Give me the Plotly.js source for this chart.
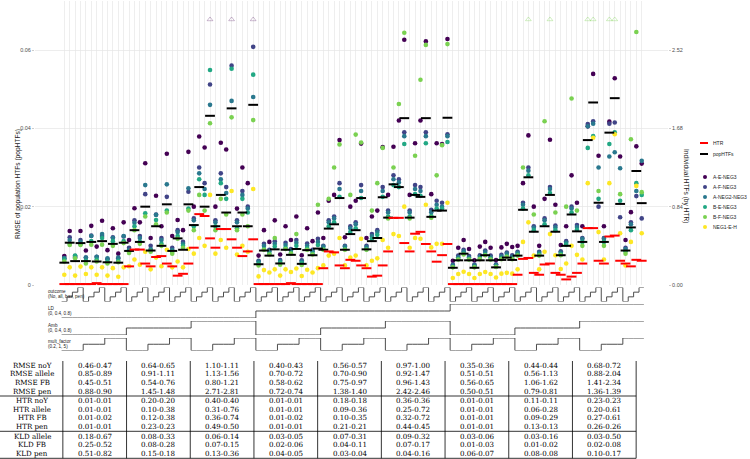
<!DOCTYPE html>
<html><head><meta charset="utf-8">
<script src="https://cdn.plot.ly/plotly-3.0.1.min.js"></script>
<style>html,body{margin:0;padding:0;background:#fff}#chart{width:750px;height:459px}</style>
</head><body><div id="chart"></div>
<script>
// ---------- factors (slot order: LD > Amb > mult_factor > outcome) ----------
const outcomeLevels = ['No','all','bas','pen'];
const multLevels = [0.2, 1, 5];
const ambLevels = [0, 0.4, 0.8];
const ldLevels = [0, 0.4, 0.8];
const slots = Array.from({length:108}, (_, i) => i + 1);

// ---------- RMSE of population HTFs (left axis), 12 values per LD x Amb block ----------
const A_E_NEG3 = [
 0.0074,0.0138,0.0074,0.0138, 0.0088,0.0151,0.0098,0.0164, 0.0089,0.0145,0.0080,0.0160,
 0.0115,0.0196,0.0160,0.0311, 0.0120,0.0228,0.0150,0.0335, 0.0125,0.0166,0.0140,0.0340,
 0.0200,0.0379,0.0351,null,   0.0200,0.0363,0.0346,null,   0.0195,0.0300,0.0260,null,
 0.0075,0.0140,0.0110,0.0165, 0.0078,0.0150,0.0115,0.0175, 0.0076,0.0145,0.0112,0.0185,
 0.0120,0.0215,0.0230,0.0370, 0.0122,0.0200,0.0215,0.0361, 0.0120,0.0175,0.0190,0.0352,
 0.0230,0.0353,0.0420,0.0626, 0.0230,0.0362,0.0420,0.0622, 0.0232,0.0362,0.0360,0.0628,
 0.0062,0.0095,0.0115,0.0092, 0.0063,0.0098,0.0110,0.0095, 0.0064,0.0096,0.0105,0.0097,
 0.0100,0.0260,0.0382,0.0200, 0.0100,0.0220,0.0371,0.0205, 0.0102,0.0150,0.0280,0.0210,
 0.0150,0.0405,0.0539,0.0330, 0.0150,0.0417,0.0528,0.0328, 0.0115,0.0186,0.0354,0.0310];
const A_F_NEG3 = [
 0.0068,0.0122,0.0070,0.0115, 0.0070,0.0126,0.0072,0.0125, 0.0066,0.0122,0.0068,0.0124,
 0.0095,0.0165,0.0125,0.0232, 0.0100,0.0180,0.0120,0.0225, 0.0095,0.0140,0.0110,0.0238,
 0.0170,0.0300,0.0260,0.0512, 0.0165,0.0285,0.0250,0.0560, 0.0165,0.0240,0.0200,0.0608,
 0.0062,0.0105,0.0090,0.0112, 0.0064,0.0108,0.0092,0.0115, 0.0063,0.0106,0.0090,0.0118,
 0.0100,0.0165,0.0175,0.0260, 0.0100,0.0150,0.0160,0.0255, 0.0100,0.0130,0.0140,0.0250,
 0.0190,0.0280,0.0270,0.0390, 0.0190,0.0255,0.0250,0.0390, 0.0192,0.0215,0.0210,0.0385,
 0.0052,0.0075,0.0090,0.0074, 0.0052,0.0076,0.0088,0.0075, 0.0053,0.0077,0.0083,0.0076,
 0.0085,0.0210,0.0300,0.0150, 0.0085,0.0170,0.0250,0.0152, 0.0086,0.0112,0.0200,0.0153,
 0.0120,0.0411,0.0418,0.0200, 0.0120,0.0412,0.0415,0.0173, 0.0095,0.0160,0.0227,0.0170];
const A_NEG2_NEG3 = [
 0.0069,0.0115,0.0072,0.0110, 0.0070,0.0125,0.0072,0.0130, 0.0068,0.0120,0.0070,0.0125,
 0.0090,0.0159,0.0120,0.0255, 0.0092,0.0179,0.0115,0.0257, 0.0090,0.0135,0.0105,0.0247,
 0.0165,0.0285,0.0245,0.0460, 0.0160,0.0270,0.0235,0.0470, 0.0160,0.0230,0.0195,0.0480,
 0.0060,0.0100,0.0086,0.0105, 0.0061,0.0102,0.0088,0.0108, 0.0060,0.0100,0.0086,0.0110,
 0.0098,0.0160,0.0170,0.0245, 0.0098,0.0145,0.0155,0.0240, 0.0097,0.0125,0.0135,0.0240,
 0.0185,0.0270,0.0262,0.0380, 0.0185,0.0245,0.0240,0.0380, 0.0186,0.0205,0.0200,0.0380,
 0.0050,0.0071,0.0086,0.0070, 0.0050,0.0072,0.0084,0.0071, 0.0051,0.0073,0.0080,0.0072,
 0.0082,0.0205,0.0292,0.0146, 0.0082,0.0165,0.0245,0.0147, 0.0083,0.0108,0.0195,0.0148,
 0.0118,0.0405,0.0412,0.0300, 0.0118,0.0328,0.0339,0.0298, 0.0092,0.0155,0.0240,0.0317];
const B_E_NEG3 = [
 0.0065,0.0105,0.0075,0.0104, 0.0062,0.0112,0.0065,0.0120, 0.0060,0.0112,0.0062,0.0112,
 0.0085,0.0150,0.0110,0.0183, 0.0088,0.0166,0.0105,0.0190, 0.0085,0.0125,0.0100,0.0195,
 0.0150,0.0270,0.0230,0.0549, 0.0150,0.0260,0.0220,0.0552, 0.0145,0.0220,0.0185,0.0537,
 0.0055,0.0092,0.0080,0.0098, 0.0057,0.0095,0.0082,0.0100, 0.0056,0.0094,0.0080,0.0102,
 0.0092,0.0150,0.0160,0.0225, 0.0092,0.0135,0.0145,0.0222, 0.0091,0.0118,0.0128,0.0225,
 0.0175,0.0255,0.0250,0.0360, 0.0175,0.0232,0.0228,0.0362, 0.0176,0.0195,0.0195,0.0365,
 0.0046,0.0066,0.0080,0.0066, 0.0046,0.0067,0.0078,0.0066, 0.0047,0.0068,0.0074,0.0067,
 0.0078,0.0195,0.0280,0.0140, 0.0078,0.0155,0.0235,0.0140, 0.0079,0.0103,0.0185,0.0141,
 0.0110,0.0350,0.0380,0.0220, 0.0110,0.0360,0.0390,0.0215, 0.0086,0.0140,0.0260,0.0230];
const B_F_NEG3 = [
 0.0060,0.0102,0.0068,0.0102, 0.0055,0.0103,0.0060,0.0103, 0.0055,0.0100,0.0058,0.0107,
 0.0082,0.0140,0.0105,0.0175, 0.0085,0.0155,0.0100,0.0185, 0.0080,0.0118,0.0095,0.0190,
 0.0140,0.0230,0.0190,0.0413, 0.0140,0.0220,0.0180,0.0428, 0.0140,0.0180,0.0150,0.0421,
 0.0050,0.0090,0.0078,0.0120, 0.0052,0.0092,0.0080,0.0130, 0.0051,0.0090,0.0078,0.0205,
 0.0090,0.0220,0.0300,0.0359, 0.0090,0.0230,0.0384,0.0364, 0.0090,0.0190,0.0260,0.0350,
 0.0170,0.0300,0.0462,0.0644, 0.0170,0.0330,0.0524,0.0613, 0.0172,0.0280,0.0357,0.0615,
 0.0045,0.0065,0.0078,0.0065, 0.0045,0.0066,0.0076,0.0065, 0.0046,0.0066,0.0072,0.0066,
 0.0075,0.0300,null,0.0180,   0.0075,0.0418,null,0.0185,   0.0076,0.0200,0.0476,0.0190,
 0.0100,null,null,0.0240,     0.0100,null,null,0.0232,     0.0080,0.0372,0.0646,0.0237];
const NEG1_E_H = [
 0.0026,0.0045,0.0024,0.0047, 0.0028,0.0045,0.0026,0.0045, 0.0024,0.0043,0.0021,0.0045,
 0.0048,0.0065,0.0052,0.0085, 0.0040,0.0070,0.0048,0.0090, 0.0045,0.0060,0.0045,0.0092,
 0.0080,0.0120,0.0100,0.0230, 0.0080,0.0115,0.0095,0.0240, 0.0078,0.0100,0.0085,0.0245,
 0.0022,0.0038,0.0032,0.0040, 0.0024,0.0040,0.0033,0.0042, 0.0023,0.0039,0.0032,0.0043,
 0.0050,0.0075,0.0080,0.0120, 0.0050,0.0070,0.0075,0.0118, 0.0050,0.0062,0.0068,0.0115,
 0.0095,0.0130,0.0125,0.0200, 0.0095,0.0120,0.0118,0.0205, 0.0096,0.0105,0.0105,0.0210,
 0.0018,0.0028,0.0034,0.0028, 0.0018,0.0028,0.0033,0.0028, 0.0019,0.0029,0.0031,0.0029,
 0.0040,0.0110,0.0160,0.0075, 0.0040,0.0085,0.0130,0.0076, 0.0041,0.0055,0.0100,0.0077,
 0.0065,0.0260,0.0376,0.0135, 0.0065,0.0260,0.0385,0.0132, 0.0050,0.0110,0.0253,0.0132];
const popHTFs = [
 0.0057,0.0108,0.0061,0.0107, 0.0061,0.0110,0.0060,0.0112, 0.0058,0.0105,0.0057,0.0108,
 0.0087,0.0140,0.0110,0.0200, 0.0088,0.0150,0.0100,0.0206, 0.0087,0.0119,0.0090,0.0206,
 0.0153,0.0250,0.0200,0.0432, 0.0150,0.0230,0.0185,0.0451, 0.0150,0.0185,0.0150,0.0460,
 0.0053,0.0088,0.0075,0.0091, 0.0055,0.0090,0.0077,0.0092, 0.0054,0.0089,0.0076,0.0093,
 0.0090,0.0144,0.0155,0.0222, 0.0090,0.0130,0.0140,0.0222, 0.0091,0.0112,0.0120,0.0224,
 0.0172,0.0257,0.0250,0.0426, 0.0172,0.0230,0.0225,0.0426, 0.0174,0.0190,0.0190,0.0427,
 0.0044,0.0063,0.0080,0.0063, 0.0044,0.0063,0.0076,0.0063, 0.0045,0.0064,0.0070,0.0064,
 0.0075,0.0192,0.0275,0.0136, 0.0075,0.0150,0.0230,0.0136, 0.0076,0.0100,0.0180,0.0137,
 0.0110,0.0370,0.0466,0.0210, 0.0110,0.0389,0.0477,0.0207, 0.0088,0.0147,0.0291,0.0209];
// individual HTFs by HTR (right axis)
const HTR = [
 0.01,0.01,0.01,0.01, 0.01,0.01,0.02,0.01, 0.01,0.01,0.01,0.01,
 0.20,0.38,0.38,0.23, 0.20,0.30,0.31,0.23, 0.20,0.10,0.12,0.23,
 0.40,0.76,0.74,0.50, 0.40,0.60,0.60,0.49, 0.40,0.31,0.36,0.49,
 0.01,0.01,0.01,0.01, 0.01,0.01,0.02,0.01, 0.01,0.01,0.01,0.01,
 0.18,0.36,0.35,0.21, 0.18,0.27,0.26,0.21, 0.18,0.09,0.10,0.21,
 0.36,0.72,0.72,0.45, 0.36,0.55,0.57,0.44, 0.36,0.25,0.32,0.44,
 0.01,0.01,0.01,0.01, 0.01,0.01,0.01,0.01, 0.01,0.01,0.01,0.01,
 0.11,0.28,0.29,0.13, 0.11,0.22,0.23,0.13, 0.11,0.06,0.09,0.13,
 0.23,0.61,0.61,0.26, 0.23,0.52,0.53,0.26, 0.23,0.20,0.27,0.26];
// slots whose value lies above the top of the axis
const overflow_A_E_NEG3 = [28, 32, 36];
const overflow_B_F_NEG3 = [87, 91, 98, 99, 102, 103];

// ---------- table ----------
const rowLabels = ['RMSE noY','RMSE allele','RMSE FB','RMSE pen','HTR noY','HTR allele','HTR FB','HTR pen','KLD allele','KLD FB','KLD pen'];
const rmse_noY   = ['0.46-0.47','0.64-0.65','1.10-1.11','0.40-0.43','0.56-0.57','0.97-1.00','0.35-0.36','0.44-0.44','0.68-0.72'];
const rmse_allele= ['0.85-0.89','0.91-1.11','1.13-1.56','0.70-0.72','0.70-0.90','0.92-1.47','0.51-0.51','0.56-1.13','0.88-2.04'];
const rmse_FB    = ['0.45-0.51','0.54-0.76','0.80-1.21','0.58-0.62','0.75-0.97','0.96-1.43','0.56-0.65','1.06-1.62','1.41-2.34'];
const rmse_pen   = ['0.88-0.90','1.45-1.48','2.71-2.81','0.72-0.74','1.38-1.40','2.42-2.46','0.50-0.51','0.79-0.81','1.36-1.39'];
const htr_noY    = ['0.01-0.01','0.20-0.20','0.40-0.40','0.01-0.01','0.18-0.18','0.36-0.36','0.01-0.01','0.11-0.11','0.23-0.23'];
const htr_allele = ['0.01-0.01','0.10-0.38','0.31-0.76','0.01-0.01','0.09-0.36','0.25-0.72','0.01-0.01','0.06-0.28','0.20-0.61'];
const htr_FB     = ['0.01-0.02','0.12-0.38','0.36-0.74','0.01-0.02','0.10-0.35','0.32-0.72','0.01-0.01','0.09-0.29','0.27-0.61'];
const htr_pen    = ['0.01-0.01','0.23-0.23','0.49-0.50','0.01-0.01','0.21-0.21','0.44-0.45','0.01-0.01','0.13-0.13','0.26-0.26'];
const kld_allele = ['0.18-0.67','0.08-0.33','0.06-0.14','0.03-0.05','0.07-0.31','0.09-0.32','0.03-0.06','0.03-0.16','0.03-0.50'];
const kld_FB     = ['0.25-0.52','0.08-0.28','0.07-0.15','0.02-0.06','0.04-0.11','0.07-0.17','0.01-0.03','0.01-0.02','0.02-0.08'];
const kld_pen    = ['0.51-0.82','0.15-0.18','0.13-0.36','0.04-0.05','0.03-0.04','0.04-0.16','0.06-0.07','0.08-0.08','0.10-0.17'];
const tableRows = [rmse_noY, rmse_allele, rmse_FB, rmse_pen, htr_noY, htr_allele, htr_FB, htr_pen, kld_allele, kld_FB, kld_pen];

// ---------- styling / geometry ----------
const W = 750, H = 459;
const px = x => x / W, py = y => 1 - y / H;
const series = [
  {name:'A-E-NEG3', y:A_E_NEG3, color:'#440154'},
  {name:'A-F-NEG3', y:A_F_NEG3, color:'#414487'},
  {name:'A-NEG2-NEG3', y:A_NEG2_NEG3, color:'#2A788E'},
  {name:'B-E-NEG3', y:B_E_NEG3, color:'#22A884'},
  {name:'B-F-NEG3', y:B_F_NEG3, color:'#7AD151'},
  {name:'NEG1-E-H', y:NEG1_E_H, color:'#FDE725'}
];
const xRange = [-4.43, 112.87];
const yTop = 0.07251, ratio = 42;

const traces = [];
series.forEach(s => {
  traces.push({type:'scatter', mode:'markers', x:slots, y:s.y, xaxis:'x', yaxis:'y',
    marker:{size:4.6, color:s.color}, cliponaxis:false, showlegend:false, hoverinfo:'skip'});
});
traces.push({type:'scatter', mode:'markers', x:overflow_A_E_NEG3, y:overflow_A_E_NEG3.map(()=>yTop*0.935),
  marker:{symbol:'triangle-up-open', size:5, color:'rgba(68,1,84,0.35)', line:{width:0.8}}, showlegend:false, hoverinfo:'skip'});
traces.push({type:'scatter', mode:'markers', x:overflow_B_F_NEG3, y:overflow_B_F_NEG3.map(()=>yTop*0.935),
  marker:{symbol:'triangle-up-open', size:5, color:'rgba(122,209,81,0.45)', line:{width:0.8}}, showlegend:false, hoverinfo:'skip'});
traces.push({type:'scatter', mode:'markers', x:slots, y:HTR, xaxis:'x', yaxis:'y2',
  marker:{symbol:'line-ew', size:7, line:{width:2, color:'#ff0000'}}, cliponaxis:false, showlegend:false, hoverinfo:'skip'});
traces.push({type:'scatter', mode:'markers', x:slots, y:popHTFs, xaxis:'x', yaxis:'y',
  marker:{symbol:'line-ew', size:7, line:{width:2, color:'#000000'}}, cliponaxis:false, showlegend:false, hoverinfo:'skip'});

// step panels (level changes half-way between neighbouring slots)
const stepX = slots.map(i => i - 0.5).concat([108.4]);
const stepDefs = [
  {lv: i => (i-1)%4, n:4, top:287.5, bot:301.5, ax:'2'},
  {lv: i => Math.floor((i-1)/36), n:3, top:304, bot:318, ax:'3'},
  {lv: i => Math.floor((i-1)/12)%3, n:3, top:321, bot:335, ax:'4'},
  {lv: i => Math.floor((i-1)/4)%3, n:3, top:338, bot:350.5, ax:'5'}
];
const layoutAxes = {};
stepDefs.forEach(d => {
  const lv = slots.map(d.lv); lv.push(lv[lv.length-1]);
  traces.push({type:'scatter', mode:'lines', x:stepX, y:lv, xaxis:'x'+d.ax, yaxis:'y'+(+d.ax+1),
    line:{shape:'hv', color:'#3a3a3a', width:0.9}, showlegend:false, hoverinfo:'skip'});
  layoutAxes['xaxis'+d.ax] = {domain:[px(35), px(668)], range:xRange, visible:false, anchor:'y'+(+d.ax+1)};
  layoutAxes['yaxis'+(+d.ax+1)] = {domain:[py(d.bot), py(d.top)], range:[0, d.n-1], visible:false, anchor:'x'+d.ax};
});

const annotations = [];
const shapes = [];
const ann = (x, y, text, o={}) => annotations.push(Object.assign({xref:'paper', yref:'paper', x:px(x), y:py(y), text,
  showarrow:false, xanchor:'center', yanchor:'middle', borderpad:0, font:{family:'Liberation Sans, Arial', size:5.5, color:'#222'}}, o));

// axis titles
ann(18, 184, 'RMSE of population HTFs (popHTFs)', {textangle:-90, font:{family:'Liberation Sans, Arial', size:6.6, color:'#222'}});
ann(686, 186, 'Individual HTFs (by HTR)', {textangle:90, font:{family:'Liberation Sans, Arial', size:6.6, color:'#222'}});

// step labels
const stepLabels = [['outcome',291.7],['(No, all, bas, pen)',296.5],['LD',308],['(0, 0.4, 0.8)',313],
  ['Amb',325],['(0, 0.4, 0.8)',330],['mult_factor',341.7],['(0.2, 1, 5)',346.7]];
stepLabels.forEach(([t,y]) => ann(47, y, t, {xanchor:'left', font:{family:'Liberation Sans, Arial', size:4.6, color:'#222'}}));

// legend
const lfont = {family:'Liberation Sans, Arial', size:5, color:'#222'};
shapes.push({type:'line', xref:'paper', yref:'paper', x0:px(700), x1:px(708), y0:py(143), y1:py(143), line:{color:'#ff0000', width:2}});
shapes.push({type:'line', xref:'paper', yref:'paper', x0:px(700), x1:px(708), y0:py(154), y1:py(154), line:{color:'#000', width:2}});
ann(712, 143, 'HTR', {xanchor:'left', font:lfont});
ann(712, 154, 'popHTFs', {xanchor:'left', font:lfont});
series.forEach((s, k) => {
  const y = 177 + k*10;
  shapes.push({type:'circle', xref:'paper', yref:'paper', x0:px(703), x1:px(707), y0:py(y+2), y1:py(y-2), fillcolor:s.color, line:{width:0}});
  ann(712, y, s.name, {xanchor:'left', font:lfont});
});

// table
const colL = 62.85, colW = 63.7;
const rowY = [365, 373.7, 382.3, 391, 400.7, 409.3, 417.7, 426.3, 436, 444.7, 453.3];
const tfont = {family:'DejaVu Serif', size:7.1, color:'#000'};
rowLabels.forEach((l, r) => ann(32, rowY[r], l, {font:tfont}));
tableRows.forEach((row, r) => row.forEach((t, c) => ann(colL + colW*(c+0.5), rowY[r], t, {font:tfont})));
for (let c = 0; c <= 9; c++) {
  shapes.push({type:'line', xref:'paper', yref:'paper', x0:px(colL+colW*c), x1:px(colL+colW*c), y0:py(361), y1:py(458.3), line:{color:'#000', width:0.8}});
}
[396, 431.3, 458.3].forEach(y => shapes.push({type:'line', xref:'paper', yref:'paper', x0:0, x1:px(colL+colW*9), y0:py(y), y1:py(y), line:{color:'#000', width:0.8}}));

const layout = Object.assign({
  width:W, height:H, margin:{l:0, r:0, t:0, b:0}, paper_bgcolor:'#fff', plot_bgcolor:'#fff', showlegend:false,
  xaxis:{domain:[px(35), px(668)], range:xRange, tickvals:slots, showticklabels:false, ticks:'', showgrid:true,
    gridcolor:'#e3e3e3', gridwidth:0.6, zeroline:false, showline:false, anchor:'y'},
  yaxis:{domain:[py(285), py(1)], range:[0, yTop], tickvals:[0,0.02,0.04,0.06], ticktext:['0','0.02','0.04','0.06'],
    ticks:'outside', ticklen:2, tickcolor:'#aaa', tickwidth:0.6, tickfont:{family:'Liberation Sans, Arial', size:5.5, color:'#4d4d4d'},
    gridcolor:'#e6e6e6', gridwidth:0.7, zeroline:false, showline:false, anchor:'x'},
  yaxis2:{overlaying:'y', side:'right', anchor:'x', range:[0, yTop*ratio], tickvals:[0,0.84,1.68,2.52], ticktext:['0.00','0.84','1.68','2.52'],
    ticks:'outside', ticklen:2, tickcolor:'#aaa', tickwidth:0.6, tickfont:{family:'Liberation Sans, Arial', size:5.5, color:'#4d4d4d'},
    showgrid:false, zeroline:false, showline:false},
  annotations, shapes
}, layoutAxes);

Plotly.newPlot('chart', traces, layout, {staticPlot:true});
</script></body></html>
